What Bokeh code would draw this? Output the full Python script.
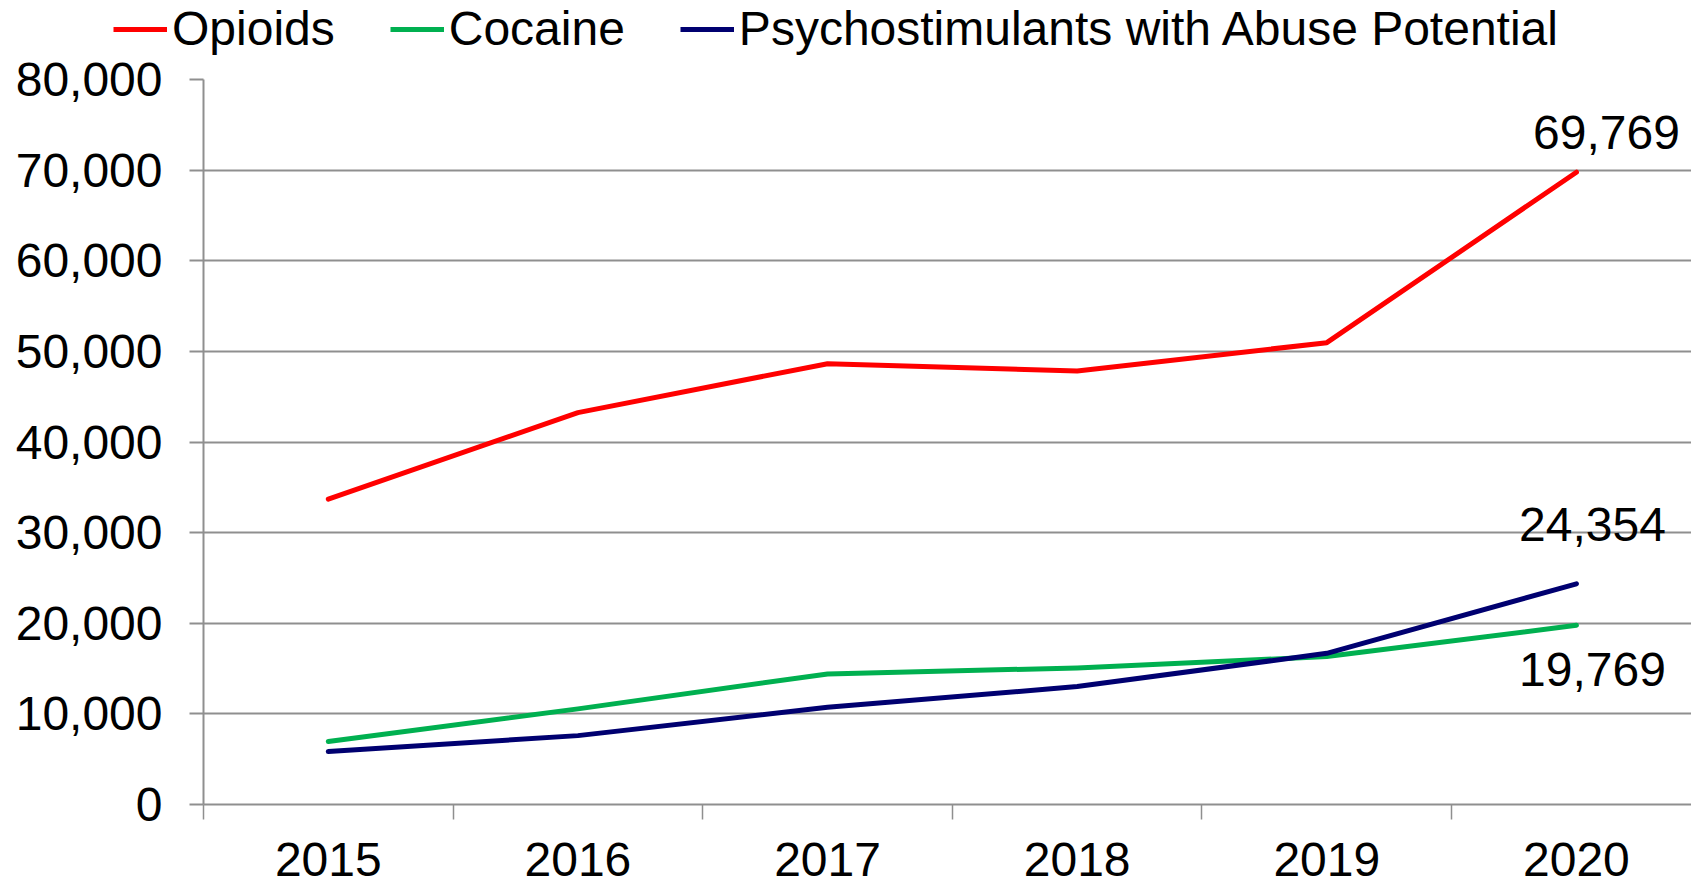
from bokeh.plotting import figure
from bokeh.layouts import column, row
from bokeh.models import (Range1d, FixedTicker, NumeralTickFormatter, Legend,
                          LegendItem, ColumnDataSource)
from bokeh.embed import file_html
from bokeh.resources import INLINE
from bokeh.core.properties import value

# ---- data ----
years = ["2015", "2016", "2017", "2018", "2019", "2020"]
opioids = [33700, 43240, 48640, 47830, 50960, 69769]
cocaine = [6950, 10550, 14410, 15070, 16320, 19769]
psychostimulants = [5850, 7600, 10730, 13010, 16680, 24354]
series_names = ["Opioids", "Cocaine", "Psychostimulants with Abuse Potential"]
y_ticks = [0, 10000, 20000, 30000, 40000, 50000, 60000, 70000, 80000]

FONT = "Liberation Sans"
FS = "48px"
GRID = "#8f8f8f"
colors = ["#FF0000", "#00B050", "#000070"]
LW = 5

xs = list(range(len(years)))
series = [opioids, cocaine, psychostimulants]

# ---- legend strip (top) ----
leg = figure(width=1691, height=58, output_backend="svg", toolbar_location=None,
             x_range=Range1d(0, 1), y_range=Range1d(0, 1),
             x_axis_location=None, y_axis_location=None,
             min_border=0, min_border_left=0, min_border_right=0,
             min_border_top=0, min_border_bottom=0)
leg.grid.visible = False
leg.outline_line_color = None
leg.background_fill_color = "white"
leg.border_fill_color = "white"
# same series drawn in the strip; the strip's ranges keep them out of view
leg_renderers = [leg.line(xs, vals, line_color=c, line_width=LW) for vals, c in zip(series, colors)]
legend = Legend(items=[LegendItem(label=n, renderers=[r]) for n, r in zip(series_names, leg_renderers)],
                orientation="horizontal", location=(113, 2),
                glyph_width=54, glyph_height=20, label_standoff=5, spacing=55,
                padding=0, margin=0, border_line_color=None, background_fill_alpha=0,
                label_text_font=FONT, label_text_font_size=FS, label_text_color="black")
leg.add_layout(legend)

# ---- main chart ----
p = figure(width=1691, height=825, output_backend="svg", toolbar_location=None,
           x_range=Range1d(-0.5, len(years) - 0.539), y_range=Range1d(y_ticks[0], y_ticks[-1]),
           min_border_left=203, min_border_top=21, min_border_bottom=79, min_border_right=0)
p.outline_line_color = None
p.background_fill_color = "white"
p.border_fill_color = "white"

p.xgrid.visible = False
p.ygrid.ticker = FixedTicker(ticks=y_ticks)
p.ygrid.grid_line_color = GRID
p.ygrid.grid_line_width = 2

ya = p.yaxis[0]
ya.ticker = FixedTicker(ticks=y_ticks)
ya.formatter = NumeralTickFormatter(format="0,0")
ya.major_tick_out = 14
ya.major_tick_in = 0
ya.minor_tick_out = 0
ya.minor_tick_in = 0
ya.major_tick_line_color = GRID
ya.major_tick_line_width = 2
ya.axis_line_color = GRID
ya.axis_line_width = 2
ya.major_label_standoff = 27
ya.major_label_text_font = FONT
ya.major_label_text_font_size = FS
ya.major_label_text_color = "black"

xa = p.xaxis[0]
xa.ticker = FixedTicker(ticks=xs, minor_ticks=[i - 0.5 for i in range(len(years) + 1)])
xa.major_label_overrides = {i: y for i, y in enumerate(years)}
xa.major_tick_out = 0
xa.major_tick_in = 0
xa.minor_tick_out = 15
xa.minor_tick_in = 0
xa.minor_tick_line_color = GRID
xa.minor_tick_line_width = 1.5
xa.axis_line_color = GRID
xa.axis_line_width = 2
xa.major_label_standoff = 23
xa.major_label_text_line_height = 1.0
xa.major_label_text_font = FONT
xa.major_label_text_font_size = FS
xa.major_label_text_color = "black"

for vals, c in zip(series, colors):
    p.line(xs, vals, line_color=c, line_width=LW, line_join="round", line_cap="round")

last = len(years) - 1
lab_vals = [opioids[last], psychostimulants[last], cocaine[last]]
src = ColumnDataSource(dict(
    x=[xs[last]] * 3,
    y=lab_vals,
    text=[f"{v:,}" for v in lab_vals],
    xo=[30, 16, 16],
    yo=[-40, -59, 44],
))
p.text(x="x", y="y", text="text", x_offset="xo", y_offset="yo", source=src,
       text_align="center", text_baseline="alphabetic",
       text_font=value(FONT), text_font_size=FS, text_color="black")

layout = column(row(leg, spacing=0), p, spacing=0)
open("out.html", "w").write(file_html(layout, INLINE))
